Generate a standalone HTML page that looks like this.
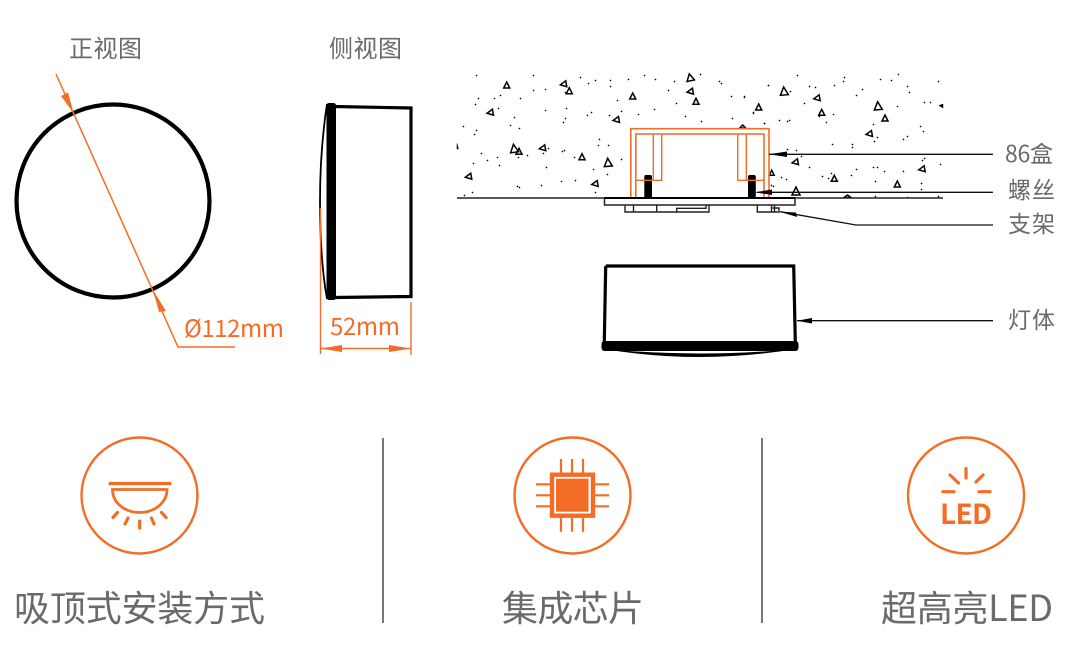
<!DOCTYPE html>
<html><head><meta charset="utf-8"><style>
html,body{margin:0;padding:0;background:#fff;width:1066px;height:646px;overflow:hidden}
svg{display:block}
text{font-family:"Noto Sans CJK SC","Liberation Sans",sans-serif;font-weight:400;fill:#6a6a6a}
.o{fill:#f36d26}
</style></head><body>
<svg width="1066" height="646" viewBox="0 0 1066 646" xmlns="http://www.w3.org/2000/svg">
<text x="69" y="57" font-size="24" textLength="73">正视图</text>
<text x="329" y="57" font-size="24" textLength="73">侧视图</text>

<!-- front view -->
<circle cx="113" cy="201" r="96.500" fill="none" stroke="#000" stroke-width="4.200"/>
<path d="M56 74L178 347H235" fill="none" stroke="#f36d26" stroke-width="1.500"/>
<path d="M73.500 113L61 96L68 92.500Z M153 290L166 311L159 312Z" fill="#f36d26"/>
<text class="o" x="184" y="337" font-size="24" textLength="100">Ø112mm</text>

<!-- side view -->
<path d="M334 106.500L411 108V296.500L334 297.500" fill="none" stroke="#000" stroke-width="3.200"/>
<rect x="326.500" y="103" width="9.500" height="197" rx="2.500" fill="#000"/>
<path d="M327 104Q320 150 320 201Q320 260 327 299" fill="none" stroke="#000" stroke-width="1.800"/>
<path d="M320.500 208V354M411 302V355" fill="none" stroke="#f36d26" stroke-width="1.400"/>
<path d="M320 348.500H411" stroke="#f36d26" stroke-width="1.500"/>
<path d="M320.500 348.500L342 345V352Z M411 348.500L389 345V352Z" fill="#f36d26"/>
<text class="o" x="330" y="335" font-size="24" textLength="70">52mm</text>

<!-- concrete dots -->
<g fill="#000" stroke="#000" stroke-width="0.500">
<path d="M476 75h1v1h-1z M533 75h1v1h-1z M580 77h1v1h-1z M595 80h1v1h-1z M588 83h1v1h-1z M610 80h1v1h-1z M628 79h1v1h-1z M644 75h1v1h-1z M655 79h1v1h-1z M674 81h1v1h-1z M700 74h1v1h-1z M719 81h1v1h-1z M721 83h1v1h-1z M768 85h1v1h-1z M610 86h1v1h-1z M533 90h1v1h-1z M545 89h1v1h-1z M565 92h1v1h-1z M668 90h1v1h-1z M478 98h1v1h-1z M494 98h1v1h-1z M500 95h1v1h-1z M520 98h1v1h-1z M617 100h1v1h-1z M731 96h1v1h-1z M744 96h1v1h-1z M475 104h1v1h-1z M498 108h1v1h-1z M545 110h1v1h-1z M566 108h1v1h-1z M676 103h1v1h-1z M654 109h1v1h-1z M621 111h1v1h-1z M591 112h1v1h-1z M587 115h1v1h-1z M609 115h1v1h-1z M638 114h1v1h-1z M685 116h1v1h-1z M753 113h1v1h-1z M514 117h1v1h-1z M565 118h1v1h-1z M563 122h1v1h-1z M701 121h1v1h-1z M732 118h1v1h-1z M764 123h1v1h-1z M510 125h1v1h-1z M519 128h1v1h-1z M463 126h1v1h-1z M476 130h1v1h-1z M474 134h1v1h-1z M599 139h1v1h-1z M598 145h1v1h-1z M608 145h1v1h-1z M481 153h1v1h-1z M497 157h1v1h-1z M487 160h1v1h-1z M518 157h1v1h-1z M527 155h1v1h-1z M548 148h1v1h-1z M564 150h1v1h-1z M562 151h1v1h-1z M543 153h1v1h-1z M574 157h1v1h-1z M621 159h1v1h-1z M473 163h1v1h-1z M499 165h1v1h-1z M546 167h1v1h-1z M593 169h1v1h-1z M607 174h1v1h-1z M561 181h1v1h-1z M575 180h1v1h-1z M517 186h1v1h-1z M519 187h1v1h-1z M541 185h1v1h-1z M595 192h1v1h-1z M472 192h1v1h-1z M464 195h1v1h-1z"/>
<path d="M797 75h1v1h-1z M844 77h1v1h-1z M843 81h1v1h-1z M880 79h1v1h-1z M891 80h1v1h-1z M898 74h1v1h-1z M938 81h1v1h-1z M768 85h1v1h-1z M809 86h1v1h-1z M815 87h1v1h-1z M834 85h1v1h-1z M907 86h1v1h-1z M909 92h1v1h-1z M862 89h1v1h-1z M856 95h1v1h-1z M790 91h1v1h-1z M744 97h1v1h-1z M924 102h1v1h-1z M930 102h1v1h-1z M897 106h1v1h-1z M804 103h1v1h-1z M833 114h1v1h-1z M753 112h1v1h-1z M779 120h1v1h-1z M787 121h1v1h-1z M789 120h1v1h-1z M764 123h1v1h-1z M826 122h1v1h-1z M819 116h1v1h-1z M873 124h1v1h-1z M920 126h1v1h-1z M923 131h1v1h-1z M877 137h1v1h-1z M874 141h1v1h-1z M903 139h1v1h-1z M907 136h1v1h-1z M832 144h1v1h-1z M852 144h1v1h-1z M852 147h1v1h-1z M787 149h1v1h-1z M796 150h1v1h-1z M801 156h1v1h-1z M924 158h1v1h-1z M922 160h1v1h-1z M940 164h1v1h-1z M809 167h1v1h-1z M856 169h1v1h-1z M873 167h1v1h-1z M877 167h1v1h-1z M884 171h1v1h-1z M903 171h1v1h-1z M831 173h1v1h-1z M851 175h1v1h-1z M822 176h1v1h-1z M828 178h1v1h-1z M781 177h1v1h-1z M786 179h1v1h-1z M875 181h1v1h-1z M921 183h1v1h-1z M921 189h1v1h-1z M771 185h1v1h-1z M773 186h1v1h-1z M875 196h1v1h-1z M907 197h1v1h-1z M938 196h1v1h-1z"/>
<path d="M457 143.500L458.500 149L457 149Z"/>
<path d="M939 105.500L943 104V108Z"/>
</g>
<!-- concrete triangles -->
<g fill="none" stroke="#000" stroke-width="1.500" stroke-linejoin="miter">
<path d="M0 -3L3 3H-3Z" transform="translate(506.700 85)"/>
<path d="M0 -3L3 3H-3Z" transform="translate(563.300 84.300) rotate(-100)"/>
<path d="M0 -3L3 3H-3Z" transform="translate(569.300 90.700)"/>
<path d="M0 -3L3 3H-3Z" transform="translate(632.700 96)"/>
<path d="M0 -3.500L3.800 3.500H-3.800Z" transform="translate(690 77.300) rotate(-12)"/>
<path d="M0 -3L3 3H-3Z" transform="translate(690 91.700) rotate(-100)"/>
<path d="M0 -3L3 3H-3Z" transform="translate(696 101.300)"/>
<path d="M0 -3L3 3H-3Z" transform="translate(490 112.700) rotate(-100)"/>
<path d="M0 -3L3 3H-3Z" transform="translate(616 120) rotate(-100)"/>
<path d="M0 -3L3 3H-3Z" transform="translate(758.700 107)"/>
<path d="M0 -4L4 4H-4Z" transform="translate(514 148.300) rotate(-8)"/>
<path d="M0 -3L3 3H-3Z" transform="translate(519 151.300)"/>
<path d="M0 -3L3 3H-3Z" transform="translate(542.300 148.300) rotate(-100)"/>
<path d="M0 -3L3 3H-3Z" transform="translate(582 156.700)"/>
<path d="M0 -4L4 4H-4Z" transform="translate(608 162.300) rotate(-5)"/>
<path d="M0 -3L3 3H-3Z" transform="translate(468.300 176.700) rotate(-100)"/>
<path d="M0 -3L3 3H-3Z" transform="translate(594.700 184) rotate(-100)"/>
<path d="M0 -2L3 1H-3Z" transform="translate(742.700 127)"/>
<path d="M0 -4L4 4H-4Z" transform="translate(784 91) rotate(-5)"/>
<path d="M0 -3L3 3H-3Z" transform="translate(816.700 98.300) rotate(-100)"/>
<path d="M0 -3L3 3H-3Z" transform="translate(821.700 112.300)"/>
<path d="M0 -4L4 4H-4Z" transform="translate(878 105.700) rotate(-5)"/>
<path d="M0 -3L3 3H-3Z" transform="translate(885 118)"/>
<path d="M0 -3L3 3H-3Z" transform="translate(869 134) rotate(-100)"/>
<path d="M0 -3L3 3H-3Z" transform="translate(795 162.300) rotate(-100)"/>
<path d="M0 -3L3 3H-3Z" transform="translate(921.700 169.300) rotate(-100)"/>
<path d="M0 -2.500L2.500 2.500H-2.500Z" transform="translate(771.700 172.700)"/>
<path d="M0 -3L3 3H-3Z" transform="translate(834.300 178.300)"/>
<path d="M0 -3L3 3H-3Z" transform="translate(897.300 184)"/>
<path d="M0 -4L4 4H-4Z" transform="translate(796 191)"/>
<path d="M847.500 195L851 197.500H844Z"/>
</g>

<!-- ceiling and mount -->
<path d="M457 198H943" stroke="#222" stroke-width="1.400"/>
<path d="M604 198H795" stroke="#000" stroke-width="2"/>
<path d="M604.500 198V205H795V198" fill="none" stroke="#222" stroke-width="1.500"/>
<path d="M625 205V212H709V205M633.500 205V212M656.700 205V212M676.700 212V208.300H706V205" fill="none" stroke="#222" stroke-width="1.400"/>
<path d="M757.300 205V212H779V208H772.500M771.500 205V212M774.500 205V212" fill="none" stroke="#222" stroke-width="1.400"/>
<!-- screws -->
<path d="M644.300 197V177Q644.300 175 646 175H650.300Q652 175 652 177V197Z M748 197V177Q748 175 749.700 175H754Q755.800 175 755.800 177V197Z" fill="#000"/>
<!-- box -->
<path d="M630.800 197V128.700H769V197" fill="none" stroke="#f36d26" stroke-width="1.600"/>
<path d="M635.800 197V134H764V197" fill="none" stroke="#f36d26" stroke-width="1.600"/>
<path d="M653.300 134V180.300M661.700 134V180.300H635.800M737.700 134V180.300H764M746.300 134V180.300" fill="none" stroke="#f36d26" stroke-width="1.400"/>

<!-- leaders -->
<path d="M769 154.300H993M757 192.300H993M780 211.700L856 225H993M797 320.700H993" fill="none" stroke="#111" stroke-width="1.300"/>
<path d="M769 154.300L787 151.500V157Z M755 192.300L772 189.500V195Z M780 211.700L796 212.500L797 217Z M797 320.700L812 318V323.500Z" fill="#000"/>
<text x="1005" y="162" font-size="23" textLength="48">86盒</text>
<text x="1008" y="198" font-size="23" textLength="47">螺丝</text>
<text x="1008" y="232" font-size="23" textLength="47">支架</text>
<text x="1008" y="328" font-size="23" textLength="47">灯体</text>

<!-- lamp -->
<path d="M605.700 266H793.700L795.300 342M605.700 266L604.300 342" fill="none" stroke="#000" stroke-width="3.200"/>
<rect x="601.500" y="341" width="197" height="10" rx="3" fill="#000"/>
<path d="M604 349Q700 365 796 349Q700 358 604 349Z" fill="#000"/>

<!-- dividers -->
<path d="M383 438V623M762 438V623" stroke="#555" stroke-width="1.600"/>

<!-- icon circles -->
<g fill="none" stroke="#f36d26" stroke-width="2.400">
<circle cx="139.500" cy="495.500" r="58"/>
<circle cx="572.500" cy="495.500" r="58"/>
<circle cx="966" cy="495.500" r="58"/>
</g>
<!-- lamp icon -->
<g fill="none" stroke="#f36d26" stroke-width="3.200" stroke-linecap="round">
<path d="M110 483.500H170"/>
<path d="M112.500 489.500H167C167 503 154 512.500 139.700 512.500C125 512.500 112.500 503 112.500 489.500Z" stroke-width="2.800"/>
<path d="M113 517.500L117.500 512.500M125 524L128 518M139.700 528V521M154 524L151.500 518M166 517.500L161.500 512.500"/>
</g>
<!-- chip icon -->
<rect x="552" y="474.700" width="41" height="41" fill="#fff" stroke="#f36d26" stroke-width="4.400"/>
<rect x="556" y="478.700" width="32.500" height="33" fill="#f36d26"/>
<path d="M561 459V472.700M572 459V472.700M583 459V472.700M561 517.700V531.700M572 517.700V531.700M583 517.700V531.700M536 484.300H550M536 495.300H550M536 506.300H550M595 484.300H609M595 495.300H609M595 506.300H609" fill="none" stroke="#f36d26" stroke-width="2.200"/>
<!-- LED icon -->
<g fill="none" stroke="#f36d26" stroke-width="3.200" stroke-linecap="round">
<path d="M966 468.500V478M950 475L958.500 483M983 475L976 482M943 491.700H954M979 491.700H990"/>
</g>
<text class="o" x="940" y="524" font-size="28" textLength="52" style="font-weight:700">LED</text>

<!-- captions -->
<text x="14" y="621" font-size="36" textLength="251">吸顶式安装方式</text>
<text x="502" y="621" font-size="36" textLength="142">集成芯片</text>
<text x="881" y="621" font-size="36" textLength="172">超高亮LED</text>
</svg>
</body></html>
